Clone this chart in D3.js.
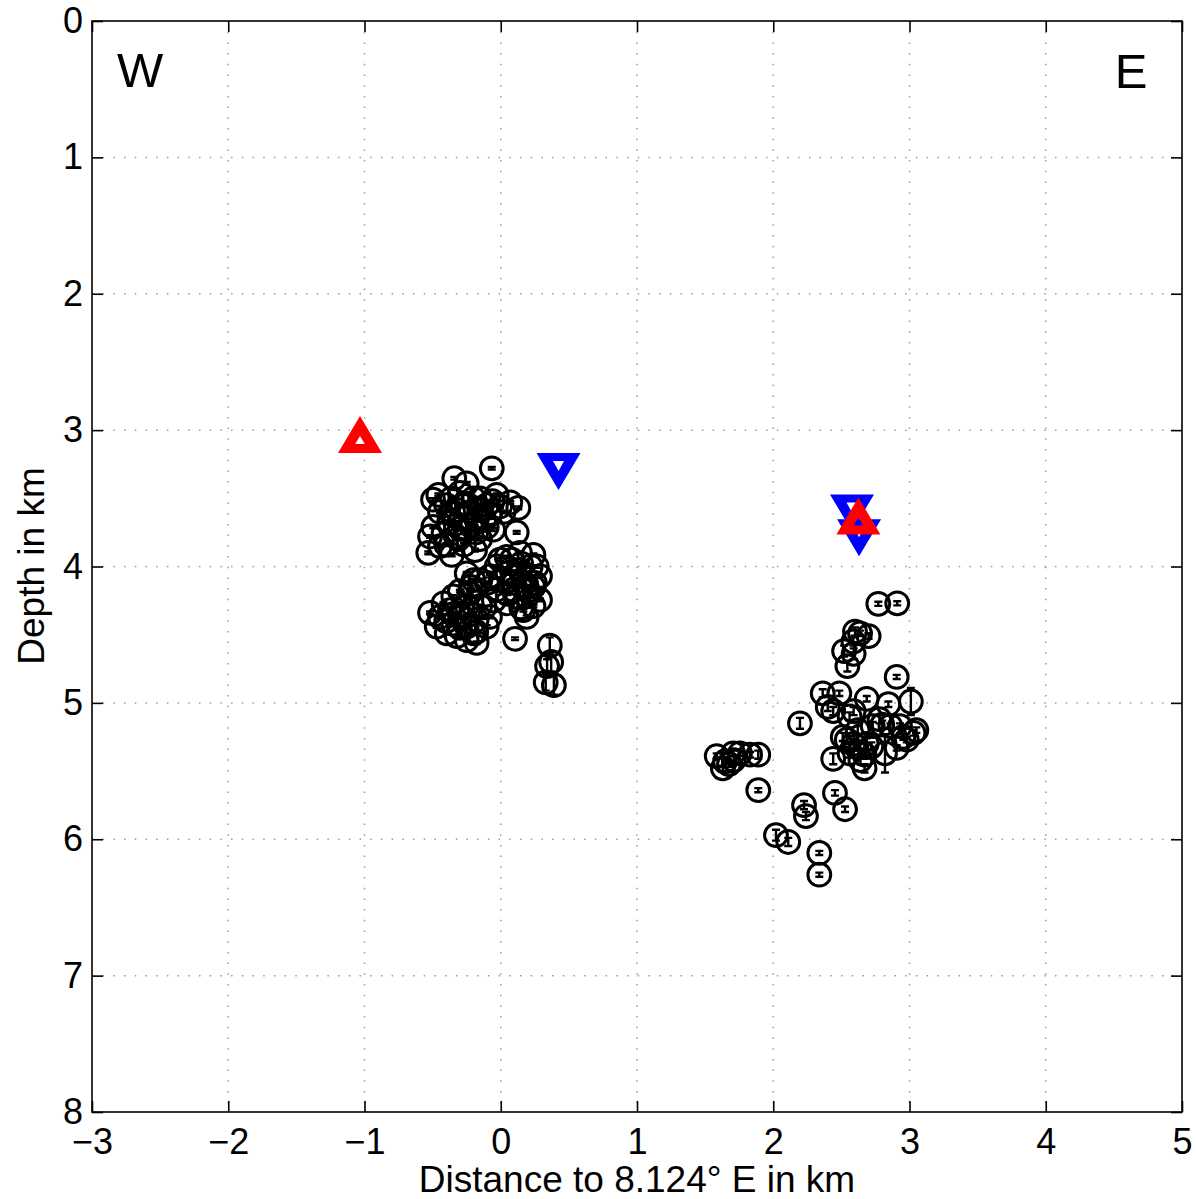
<!DOCTYPE html>
<html><head><meta charset="utf-8">
<script src="https://cdn.jsdelivr.net/npm/d3@7"></script>
<style>
html,body{margin:0;padding:0;background:#fff;}
text{font-family:"Liberation Sans",Arial,Helvetica,sans-serif;}
</style></head>
<body><svg id="chart" width="1196" height="1199"></svg>
<script>
// ---- data (km) ----
const xTicks = [-3,-2,-1,0,1,2,3,4,5];
const yTicks = [0,1,2,3,4,5,6,7,8];
const xLabel = "Distance to 8.124\u00B0 E in km";
const yLabel = "Depth in km";
const sideLabels = ["W","E"];

// [distance, depth, depth error]
const westEvents = [
 [-0.066,3.28,0.01],[0.117,3.75,0.01],[0.105,4.53,0.01],
 [0.36,4.58,0.06],[0.37,4.70,0.07],[0.39,4.87,0.07],[0.33,4.85,0.06],[0.34,4.73,0.05],
 [-0.341,3.353,0.01],[-0.458,3.475,0.01],[-0.497,3.51,0.01],[-0.25,3.39,0.01],[-0.30,3.46,0.01],
 [-0.152,3.50,0.01],[-0.03,3.475,0.01],[-0.005,3.56,0.01],[0.129,3.57,0.01],[-0.079,3.61,0.01],
 [-0.495,3.71,0.01],[-0.519,3.78,0.01],[-0.532,3.90,0.01],[-0.446,3.85,0.01],[-0.36,3.915,0.01],
 [-0.189,3.88,0.01],[-0.055,3.73,0.01],[-0.25,3.73,0.01],[-0.373,3.68,0.01],[-0.177,3.66,0.01],
 [-0.323,3.585,0.01],[-0.446,3.60,0.01],[-0.25,3.54,0.01],[-0.103,3.71,0.01],[-0.152,3.80,0.01],
 [-0.311,3.80,0.01],
 [-0.40,3.55,0.01],[-0.35,3.60,0.01],[-0.28,3.55,0.01],[-0.22,3.60,0.01],[-0.15,3.58,0.01],
 [-0.10,3.55,0.01],[-0.38,3.68,0.01],[-0.30,3.72,0.01],[-0.22,3.70,0.01],[-0.12,3.66,0.01],
 [-0.42,3.76,0.01],[-0.33,3.78,0.01],[-0.26,3.64,0.01],[-0.18,3.75,0.01],[-0.08,3.62,0.01],
 [-0.36,3.50,0.01],[-0.20,3.50,0.01],[-0.06,3.52,0.01],[-0.40,3.84,0.01],[-0.27,3.84,0.01],
 [0.02,3.60,0.01],[0.07,3.53,0.01],
 [-0.005,3.95,0.01],[0.141,3.90,0.01],[0.24,3.915,0.01],[0.264,4.00,0.01],[0.288,4.07,0.01],
 [0.24,4.15,0.01],[0.19,4.22,0.01],[0.166,4.32,0.01],[0.19,4.37,0.01],[0.044,4.27,0.01],
 [-0.03,4.17,0.01],[-0.079,4.07,0.01],[-0.03,4.00,0.01],[0.092,4.07,0.01],[0.092,4.17,0.01],
 [0.141,4.025,0.01],[0.044,3.93,0.01],[-0.10,4.12,0.01],[0.19,4.15,0.01],[0.288,4.245,0.01],
 [0.24,4.29,0.01],
 [0.05,4.05,0.01],[0.10,4.12,0.01],[0.18,4.08,0.01],[0.22,4.00,0.01],[0.15,3.98,0.01],
 [0.08,3.95,0.01],[0.00,4.10,0.01],[0.12,4.22,0.01],[0.20,4.18,0.01],[0.25,4.12,0.01],
 [0.05,4.20,0.01],[0.15,4.30,0.01],
 [-0.25,4.05,0.01],[-0.20,4.10,0.01],[-0.15,4.10,0.01],[-0.22,4.15,0.01],[-0.05,4.25,0.01],
 [-0.30,4.18,0.01],
 [-0.519,4.34,0.01],[-0.42,4.27,0.01],[-0.348,4.22,0.01],[-0.226,4.195,0.01],[-0.152,4.29,0.01],
 [-0.079,4.37,0.01],[-0.47,4.44,0.01],[-0.397,4.49,0.01],[-0.323,4.51,0.01],[-0.25,4.54,0.01],
 [-0.177,4.56,0.01],[-0.201,4.49,0.01],[-0.299,4.37,0.01],[-0.373,4.32,0.01],[-0.25,4.29,0.01],
 [-0.177,4.39,0.01],[-0.446,4.37,0.01],[-0.103,4.44,0.01],[-0.25,4.44,0.01],[-0.348,4.42,0.01],
 [-0.40,4.40,0.01],[-0.30,4.45,0.01],[-0.22,4.35,0.01],[-0.28,4.30,0.01],[-0.35,4.35,0.01],
 [-0.18,4.48,0.01],[-0.12,4.30,0.01]
];

const eastEvents = [
 [2.771,4.274,0.015],[2.91,4.27,0.015],[2.60,4.477,0.03],[2.70,4.51,0.02],[2.637,4.49,0.02],
 [2.588,4.55,0.03],[2.52,4.62,0.04],[2.59,4.64,0.04],[2.544,4.73,0.04],[2.906,4.81,0.015],
 [2.363,4.93,0.03],[2.485,4.93,0.02],[2.686,4.97,0.02],[3.01,4.99,0.10],[2.845,5.01,0.02],
 [2.40,5.03,0.03],[2.44,5.06,0.03],[2.59,5.06,0.03],[2.56,5.10,0.03],[2.196,5.15,0.04],
 [2.80,5.16,0.03],[2.73,5.17,0.03],[2.93,5.17,0.02],[3.03,5.22,0.02],[2.955,5.25,0.02],
 [2.54,5.27,0.03],[2.59,5.30,0.03],[2.686,5.30,0.04],[2.82,5.37,0.14],[2.906,5.33,0.02],
 [2.44,5.41,0.04],[2.67,5.38,0.03],[2.67,5.48,0.03],[2.98,5.27,0.02],[3.05,5.20,0.02],
 [2.56,5.37,0.03],[2.61,5.32,0.03],[2.78,5.12,0.03],[2.86,5.17,0.02],[2.64,5.42,0.03],
 [2.72,5.32,0.03],[2.51,5.25,0.03],[2.62,5.20,0.03],
 [1.585,5.39,0.02],[1.646,5.43,0.02],[1.63,5.48,0.02],[1.71,5.42,0.03],[1.756,5.37,0.02],
 [1.706,5.37,0.02],[1.89,5.38,0.03],[1.83,5.38,0.02],[1.675,5.45,0.02],
 [1.89,5.64,0.015],[2.453,5.66,0.02],[2.527,5.78,0.02],[2.226,5.75,0.03],[2.24,5.83,0.03],
 [2.02,5.97,0.04],[2.11,6.02,0.03],[2.338,6.10,0.015],[2.338,6.26,0.015]
];

// stations
const upTriangles = [[-1.033,3.032],[2.625,3.63]];
const downTriangles = [[0.424,3.303],[2.578,3.607],[2.63,3.79]];

// ---- layout ----
const L=92, R=1182, T=21, B=1112;
const svg = d3.select("#chart");
const x = d3.scaleLinear().domain([-3,5]).range([L,R]);
const y = d3.scaleLinear().domain([0,8]).range([T,B]);

// grid
const grid = svg.append("g").attr("stroke","#9a9a9a").attr("stroke-width",1.5).attr("stroke-dasharray","1.5,9.2");
grid.selectAll(".gx").data(xTicks.slice(1,-1)).join("line")
  .attr("x1",d=>x(d)).attr("x2",d=>x(d)).attr("y1",T).attr("y2",B);
grid.selectAll(".gy").data(yTicks.slice(1,-1)).join("line")
  .attr("y1",d=>y(d)).attr("y2",d=>y(d)).attr("x1",L).attr("x2",R);

// axes
const fs = 36;
const ax = svg.append("g").attr("transform",`translate(0,${B})`)
  .call(d3.axisBottom(x).tickValues(xTicks).tickSizeInner(-11).tickSizeOuter(0).tickPadding(16));
const ay = svg.append("g").attr("transform",`translate(${L},0)`)
  .call(d3.axisLeft(y).tickValues(yTicks).tickSizeInner(-11).tickSizeOuter(0).tickPadding(9));
const axt = svg.append("g").attr("transform",`translate(0,${T})`)
  .call(d3.axisTop(x).tickValues(xTicks).tickSizeInner(-11).tickSizeOuter(0).tickFormat(""));
const ayr = svg.append("g").attr("transform",`translate(${R},0)`)
  .call(d3.axisRight(y).tickValues(yTicks).tickSizeInner(-11).tickSizeOuter(0).tickFormat(""));
[ax,ay,axt,ayr].forEach(g=>{
  g.select(".domain").remove();
  g.selectAll(".tick line").attr("stroke","#000").attr("stroke-width",1.6);
  g.selectAll(".tick text").attr("fill","#000").style("font-size",fs+"px")
    .style("font-family",'"Liberation Sans",Arial,sans-serif');
});
// frame
svg.append("rect").attr("x",L).attr("y",T).attr("width",R-L).attr("height",B-T)
  .attr("fill","none").attr("stroke","#000").attr("stroke-width",1.6);

// events
const events = westEvents.concat(eastEvents);
const ev = svg.append("g").attr("stroke","#000").attr("fill","none");
const cap = 4;
ev.selectAll("path.eb").data(events).join("path").attr("class","eb")
  .attr("stroke-width",2.4)
  .attr("d",d=>{
    const cx=x(d[0]), y1=y(d[1]-d[2]), y2=y(d[1]+d[2]);
    return `M${cx},${y1}V${y2}M${cx-cap},${y1}H${cx+cap}M${cx-cap},${y2}H${cx+cap}`;
  });
ev.selectAll("circle").data(events).join("circle")
  .attr("cx",d=>x(d[0])).attr("cy",d=>y(d[1])).attr("r",11.4).attr("stroke-width",3);

// triangles
const upPath = "M0,-18.5L22,18.5L-22,18.5ZM0,1.5L4.8,9.5L-4.8,9.5Z";
const downPath = "M-22,-18.5L22,-18.5L0,18.5ZM-5.5,-10.5L5.5,-10.5L0,-0.5Z";
svg.append("g").selectAll("path").data(downTriangles).join("path")
  .attr("transform",d=>`translate(${x(d[0])},${y(d[1])})`)
  .attr("d",downPath).attr("fill","#0000ff").attr("fill-rule","evenodd");
svg.append("g").selectAll("path").data(upTriangles).join("path")
  .attr("transform",d=>`translate(${x(d[0])},${y(d[1])})`)
  .attr("d",upPath).attr("fill","#ff0000").attr("fill-rule","evenodd");

// labels
svg.append("text").attr("x",140).attr("y",87).attr("text-anchor","middle")
  .style("font-size","49px").text(sideLabels[0]);
svg.append("text").attr("x",1131).attr("y",88).attr("text-anchor","middle")
  .style("font-size","49px").text(sideLabels[1]);
svg.append("text").attr("x",637).attr("y",1192).attr("text-anchor","middle")
  .style("font-size","37px").text(xLabel);
svg.append("text").attr("transform","translate(43.5,566) rotate(-90)").attr("text-anchor","middle")
  .style("font-size","37px").text(yLabel);
</script>
</body></html>
